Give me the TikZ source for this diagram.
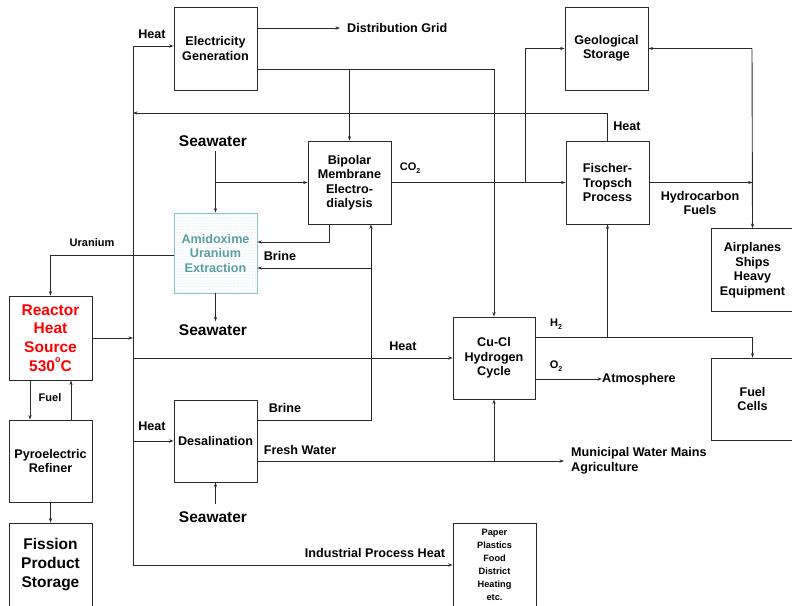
\documentclass[tikz,border=0pt]{standalone}
\usepackage{fontspec}
\setmainfont{Liberation Sans}
\usetikzlibrary{arrows.meta,calc,patterns}
\definecolor{ln}{HTML}{2A2A2A}
\definecolor{teal1}{HTML}{5AA0A0}
\definecolor{teal2}{HTML}{8CC2C2}
\newcommand{\subtwo}{\raisebox{-0.3em}{\fontsize{7}{7}\selectfont 2}}
\begin{document}
\begin{tikzpicture}[x=1pt,y=-1pt,
  every node/.style={font=\bfseries},
  box/.style={draw=ln,line width=0.9pt,minimum width=83pt,minimum height=83pt,inner sep=1pt,align=center,font=\bfseries\fontsize{12.6}{14.5}\selectfont},
  big/.style={font=\bfseries\fontsize{15.5}{18.8}\selectfont,align=center,inner sep=1pt},
  lbl/.style={font=\bfseries\fontsize{12.6}{14.5}\selectfont,align=center,inner sep=0pt},
  slbl/.style={font=\bfseries\fontsize{11}{13}\selectfont,align=center,inner sep=0pt},
  arr/.style={draw=ln,line width=0.9pt,-{Stealth[length=4.5pt,width=3.2pt]}},
  ln/.style={draw=ln,line width=0.9pt}]
\useasboundingbox (0,0) rectangle (792,605);
\fill[white] (0,0) rectangle (792,605);

% boxes
\node[box] (elec) at (215.5,48.5) {Electricity\\Generation};
\node[box] (geo) at (606.5,48.5) {Geological\\Storage};
\node[box] (bip) at (349.5,182.5) {Bipolar\\Membrane\\Electro-\\dialysis};
\node[box] (ft) at (607.5,182.5) {Fischer-\\Tropsch\\Process};
\node[box,minimum height=80pt,draw=teal2,pattern=dots,pattern color=teal2!70,text=teal1] (ami) at (215.5,253) {Amidoxime\\Uranium\\Extraction};
\node[box,minimum height=84pt,text=red,font=\bfseries\fontsize{15.5}{18.8}\selectfont] (reac) at (50.5,338) {Reactor\\Heat\\Source\\530\raisebox{0.55em}{\fontsize{9}{9}\selectfont o}C};
\node[box,minimum height=82pt] (pyro) at (50.5,461) {Pyroelectric\\Refiner};
\node[box,font=\bfseries\fontsize{15.5}{19}\selectfont] (fiss) at (50.5,564.5) {Fission\\Product\\Storage};
\node[box,minimum height=82pt] (desal) at (215.5,441) {Desalination};
\node[box,minimum height=82pt,minimum width=82pt] (cucl) at (494,358) {Cu-Cl\\Hydrogen\\Cycle};
\node[box] (air) at (752.5,270) {Airplanes\\Ships\\Heavy\\Equipment};
\node[box,minimum height=82pt] (fc) at (752.5,399) {Fuel\\Cells};
\node[box,font=\bfseries\fontsize{9.2}{13}\selectfont] (paper) at (494.5,564.5) {Paper\\Plastics\\Food\\District\\Heating\\etc.};

% free texts
\node[lbl,anchor=west] (dist) at (347,28) {Distribution Grid};
\node[big] (sw1) at (213,141) {Seawater};
\node[big] (sw2) at (213,330) {Seawater};
\node[big] (sw3) at (213,517) {Seawater};
\node[lbl,anchor=west,align=left] (mun) at (571,461) {Municipal Water Mains\\Agriculture};
\node[lbl,anchor=west] (atm) at (602,379) {Atmosphere};

% labels
\node[lbl] at (152,34) {Heat};
\node[lbl] at (627,126) {Heat};
\node[slbl] at (410,168) {CO\subtwo};
\node[lbl] at (700,203) {Hydrocarbon\\Fuels};
\node[lbl] at (280,256) {Brine};
\node[slbl] at (92,243) {Uranium};
\node[lbl] at (403,346) {Heat};
\node[slbl] at (50,398) {Fuel};
\node[lbl] at (152,426) {Heat};
\node[lbl] at (285,408) {Brine};
\node[lbl] at (300,450) {Fresh Water};
\node[lbl] at (375,553) {Industrial Process Heat};
\node[slbl] at (556,324) {H\subtwo};
\node[slbl] at (556,366) {O\subtwo};

% junction coordinates
\coordinate (bT) at (133,46);
\coordinate (bB) at (133,565);
\coordinate (hr) at (133,113);
\coordinate (eHi) at ($(elec.east)+(0,-20.5)$);
\coordinate (eLo) at ($(elec.east)+(0,20.5)$);
\coordinate (j1) at (525,182.5);
\coordinate (rv) at (752,48.5);
\coordinate (bx) at (371,268);
\coordinate (dBr) at ($(desal.east)+(0,-21)$);
\coordinate (dFw) at ($(desal.east)+(0,20)$);
\coordinate (h2) at ($(cucl.east)+(0,-21)$);
\coordinate (o2) at ($(cucl.east)+(0,21)$);

% heat bus
\draw[ln] (bT) -- (bB);
\draw[arr] (bT) -- (elec.west |- bT);
\draw[arr] (reac.east) -- (reac.east -| bT);
\draw[arr] (cucl.west -| bT) -- (cucl.west);
\draw[arr] (desal.west -| bT) -- (desal.west);
\draw[arr] (bB) -- (paper.west |- bB);
\draw[arr] (ft.north) |- (hr);

% electricity
\draw[arr,shorten >=7pt] (eHi) -- (dist.west);
\draw[arr] (eLo) -| (cucl.north);
\draw[arr] (bip.north |- eLo) -- (bip.north);

% seawater / uranium
\draw[arr,shorten <=3pt] (sw1.south -| ami.north) -- (ami.north);
\draw[arr] (ami.north |- bip.west) -- (bip.west);
\draw[arr] ($(bip.south)+(-20.5,0)$) |- ($(ami.east)+(0,-11)$);
\draw[ln] (dBr) -| (bx);
\draw[arr] (bx) -- ($(bip.south)+(21.5,0)$);
\draw[arr] (bx) -- (ami.east |- bx);
\draw[arr] ($(ami.west)+(0,2)$) -| (reac.north);
\draw[arr,shorten >=2pt] (ami.south) -- (ami.south |- sw2.north);

% CO2 and fuels
\draw[arr] (bip.east) -- (ft.west);
\draw[arr] (j1) |- (geo.west);
\draw[arr] (rv) -- (geo.east);
\draw[arr] (rv) -- (air.north);
\draw[arr] (ft.east) -- (ft.east -| air.north);

% reactor loop
\draw[arr] ($(reac.south)+(-20.5,0)$) -- ($(pyro.north)+(-20.5,0)$);
\draw[arr] ($(pyro.north)+(20.5,0)$) -- ($(reac.south)+(20.5,0)$);
\draw[arr] (pyro.south) -- (fiss.north);

% water
\draw[arr,shorten >=7pt] (dFw) -- (dFw -| mun.west);
\draw[arr] (cucl.south |- dFw) -- (cucl.south);
\draw[arr,shorten <=6pt] (sw3.north -| desal.south) -- (desal.south);

% hydrogen
\draw[arr] (h2) -| (fc.north);
\draw[arr] (ft.south |- h2) -- (ft.south);
\draw[arr] (o2) -- (atm.west);
\end{tikzpicture}
\end{document}
